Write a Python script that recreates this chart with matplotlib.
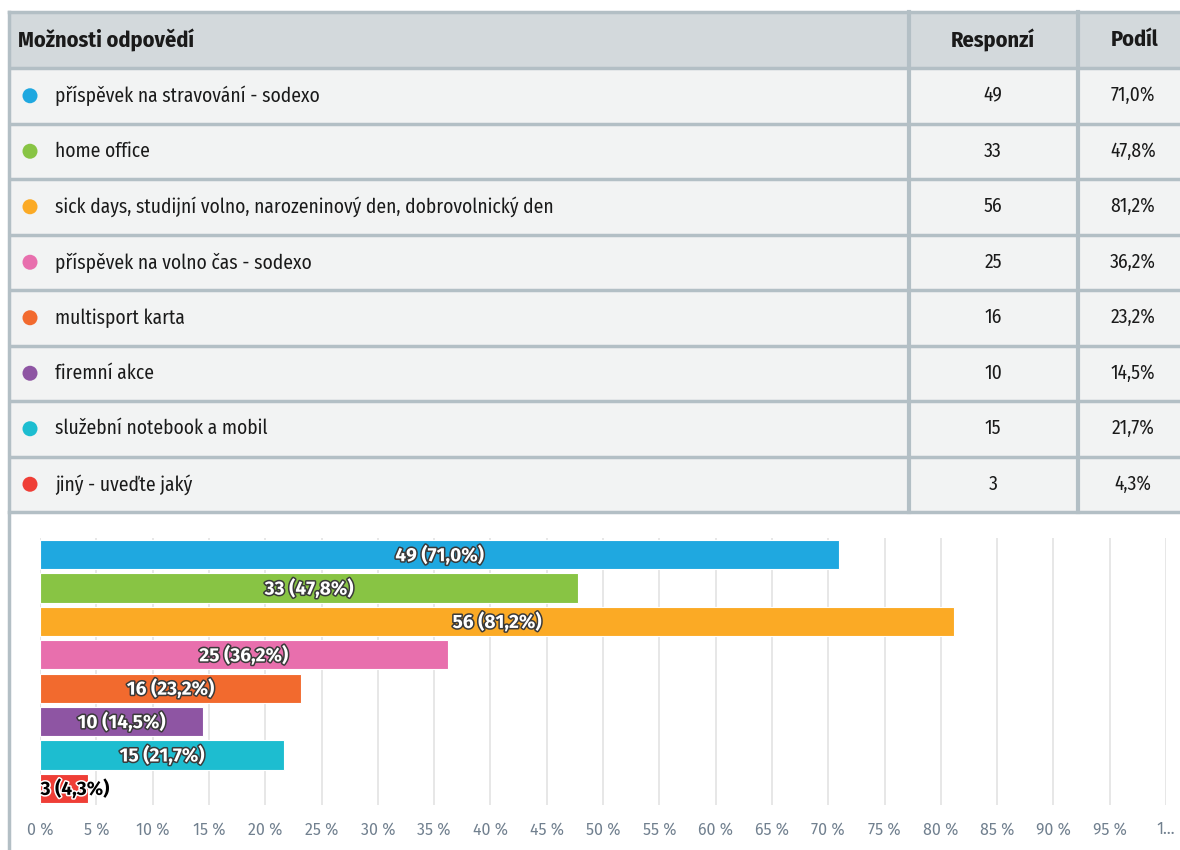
import matplotlib
matplotlib.use("Agg")
import matplotlib.pyplot as plt
import matplotlib.patheffects as pe
from matplotlib.patches import Rectangle, Circle

# ---------------- data ----------------
options = [
    "příspěvek na stravování - sodexo",
    "home office",
    "sick days, studijní volno, narozeninový den, dobrovolnický den",
    "příspěvek na volno čas - sodexo",
    "multisport karta",
    "firemní akce",
    "služební notebook a mobil",
    "jiný - uveďte jaký",
]
responses = [49, 33, 56, 25, 16, 10, 15, 3]
shares = [71.0, 47.8, 81.2, 36.2, 23.2, 14.5, 21.7, 4.3]
colors = ["#1fa8e0", "#88c444", "#fbaa25", "#e86fad", "#f26a2e", "#8e55a3", "#1dbdd0", "#ef3e36"]
header = ["Možnosti odpovědí", "Responzí", "Podíl"]
x_ticks = list(range(0, 101, 5))

plt.rcParams["font.family"] = ["Fira Sans Condensed", "DejaVu Sans"]

W, H = 1180, 850
fig = plt.figure(figsize=(W / 100, H / 100), dpi=100)
fig.patch.set_facecolor("white")

# table layer in pixel coordinates
tab = fig.add_axes([0, 0, 1, 1])
tab.set_xlim(0, W)
tab.set_ylim(H, 0)
tab.axis("off")

border = "#b3bfc5"
hdr_bg = "#d3d9dc"
row_bg = "#f2f3f3"
top, hdr_h, row_h = 12, 56, 55.5
left, right = 9, W + 5
col1, col2 = 909, 1078
c2x, c3x = 993, 1133

tab.add_patch(Rectangle((left, top), right - left, hdr_h, facecolor=hdr_bg, edgecolor="none"))
for i in range(len(options)):
    y0 = top + hdr_h + i * row_h
    tab.add_patch(Rectangle((left, y0), right - left, row_h, facecolor=row_bg, edgecolor="none"))
    tab.plot([left, right], [y0, y0], color=border, lw=2.5, solid_capstyle="butt")
tbl_bottom = top + hdr_h + len(options) * row_h
tab.plot([left, right], [top, top], color=border, lw=2.5)
tab.plot([left, right], [tbl_bottom, tbl_bottom], color=border, lw=2.5)
for cx in (col1, col2):
    tab.plot([cx, cx], [top, tbl_bottom], color=border, lw=3)
tab.plot([left, left], [top, H], color=border, lw=2.5)

hy = top + hdr_h / 2
fs_h = 16
fs_r = 14
tab.text(18, hy, header[0], fontsize=fs_h, fontweight="bold", color="#1a1a1a", va="center", ha="left")
tab.text(c2x, hy, header[1], fontsize=fs_h, fontweight="bold", color="#1a1a1a", va="center", ha="center")
tab.text(c3x + 2, hy, header[2], fontsize=fs_h, fontweight="bold", color="#1a1a1a", va="center", ha="center")

for i, (lab, n, s, c) in enumerate(zip(options, responses, shares, colors)):
    yc = top + hdr_h + i * row_h + row_h / 2
    tab.add_patch(Circle((30, yc), 7.5, facecolor=c, edgecolor="none"))
    tab.text(55, yc, lab, fontsize=fs_r, color="#1a1a1a", va="center", ha="left")
    tab.text(c2x, yc, str(n), fontsize=fs_r, color="#1a1a1a", va="center", ha="center")
    tab.text(c3x, yc, f"{s:.1f}".replace(".", ",") + "%", fontsize=fs_r, color="#1a1a1a",
             va="center", ha="center")

# ---------------- bar chart ----------------
ax_l, ax_r = 40, 1166
ax_t, ax_b = 538, 805
ax = fig.add_axes([ax_l / W, 1 - ax_b / H, (ax_r - ax_l) / W, (ax_b - ax_t) / H])
ax.set_facecolor("none")
ypos = list(range(len(options)))
ax.barh(ypos, shares, height=0.88, color=colors, edgecolor="white", linewidth=0.8, zorder=3)
ax.set_ylim(len(options) - 0.5, -0.5)
ax.set_xlim(0, 100)
ax.set_xticks(x_ticks)
ax.set_xticklabels([f"{v} %" if v < 100 else "1..." for v in x_ticks], fontsize=11.5, color="#71808f",
                   family=["Fira Sans", "DejaVu Sans"])
ax.tick_params(axis="x", length=0, pad=12)
ax.set_yticks([])
ax.grid(axis="x", color="#e3e3e3", lw=1.2, zorder=0)
for sp in ax.spines.values():
    sp.set_visible(False)

for y, n, s in zip(ypos, responses, shares):
    txt = f"{n} ({s:.1f}".replace(".", ",") + "%)"
    if s > 10:
        ax.text(s / 2, y, txt, ha="center", va="center", fontsize=13.8, fontweight="bold", color="white",
                family=["Fira Sans", "DejaVu Sans"], zorder=5,
                path_effects=[pe.withStroke(linewidth=2.2, foreground="#3a3a3a")])
    else:
        ax.text(0.05, y, txt, ha="left", va="center", fontsize=13.8, fontweight="bold", color="black",
                family=["Fira Sans", "DejaVu Sans"], zorder=5,
                path_effects=[pe.withStroke(linewidth=2.2, foreground="white")])

fig.savefig("out.png", dpi=100, facecolor="white")
